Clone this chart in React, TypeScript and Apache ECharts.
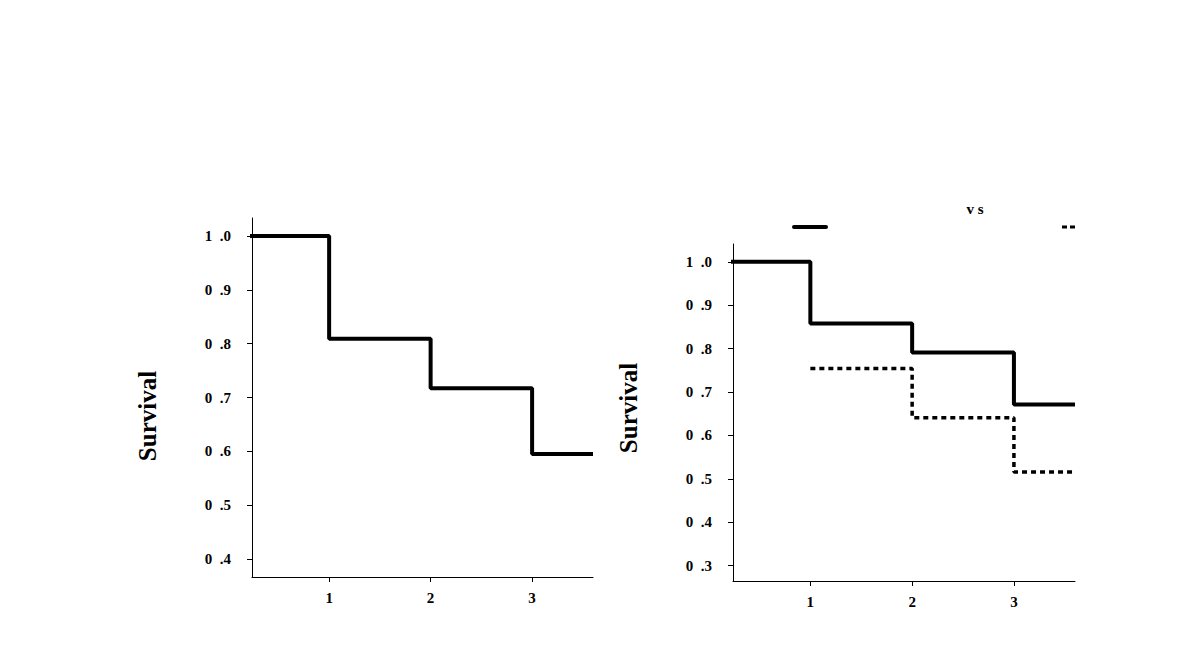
import React, { useEffect, useRef } from "react";
import * as echarts from "echarts";

const xTicks = [1, 2, 3];
const yTicksLeft = [0.4, 0.5, 0.6, 0.7, 0.8, 0.9, 1.0];
const yTicksRight = [0.3, 0.4, 0.5, 0.6, 0.7, 0.8, 0.9, 1.0];

const leftTimes = [0, 1, 2, 3, 3.6];
const leftSurvival = [1.0, 0.809, 0.717, 0.595, 0.595];

const rightSolidTimes = [0, 1, 2, 3, 3.6];
const rightSolidSurvival = [1.0, 0.858, 0.791, 0.671, 0.671];

const rightDashedTimes = [1, 2, 3, 3.6];
const rightDashedSurvival = [0.754, 0.641, 0.516, 0.516];

const yLabel = "Survival";
const legendMid = "v s";

const serif = "'Liberation Serif', 'Times New Roman', serif";

const pairs = (xs: number[], ys: number[]) => xs.map((x, i) => [x, ys[i]]);
const fmtY = (v: number) => v.toFixed(1).replace(".", "\u00a0\u00a0.");

export default function App() {
  const ref = useRef<HTMLDivElement>(null);
  useEffect(() => {
    document.body.style.margin = "0";
    const chart = echarts.init(ref.current!, undefined, { renderer: "svg" });
    const axisLine = { show: true, lineStyle: { color: "#000", width: 1 } };
    const labelStyle = { color: "#000", fontFamily: serif, fontWeight: "bold" as const, fontSize: 15 };
    const xAxisDef = (gridIndex: number) => ({
      type: "value",
      gridIndex,
      min: 0.24,
      max: 3.6,
      axisLine,
      splitLine: { show: false },
      axisTick: { show: true, customValues: xTicks, length: 5, lineStyle: { color: "#000" } },
      axisLabel: { ...labelStyle, customValues: xTicks, margin: 13, formatter: (v: number) => String(v) },
    });
    const yAxisDef = (gridIndex: number, min: number, max: number, ticks: number[]) => ({
      type: "value",
      gridIndex,
      min,
      max,
      axisLine,
      splitLine: { show: false },
      axisTick: { show: true, customValues: ticks, length: 5, lineStyle: { color: "#000" } },
      axisLabel: { ...labelStyle, customValues: ticks, margin: 21, formatter: fmtY },
    });
    chart.setOption({
      animation: false,
      backgroundColor: "#fff",
      grid: [
        { left: 252, top: 218, width: 341, height: 359 },
        { left: 733, top: 244, width: 342, height: 337 },
      ],
      xAxis: [xAxisDef(0), xAxisDef(1)],
      yAxis: [
        yAxisDef(0, 0.3665, 1.0335, yTicksLeft),
        yAxisDef(1, 0.2647, 1.041, yTicksRight),
      ],
      series: [
        {
          type: "line",
          xAxisIndex: 0,
          yAxisIndex: 0,
          step: "end",
          data: pairs(leftTimes, leftSurvival),
          showSymbol: false,
          lineStyle: { color: "#000", width: 4 },
        },
        {
          type: "line",
          xAxisIndex: 1,
          yAxisIndex: 1,
          step: "end",
          data: pairs(rightSolidTimes, rightSolidSurvival),
          showSymbol: false,
          lineStyle: { color: "#000", width: 4 },
        },
        {
          type: "line",
          xAxisIndex: 1,
          yAxisIndex: 1,
          step: "end",
          data: pairs(rightDashedTimes, rightDashedSurvival),
          showSymbol: false,
          lineStyle: { color: "#000", width: 3.5, type: [5, 4] },
        },
      ],
      graphic: [
        {
          type: "text",
          x: 147,
          y: 416,
          rotation: Math.PI / 2,
          style: { text: yLabel, font: `bold 25px ${serif}`, fill: "#000", align: "center", verticalAlign: "middle" },
        },
        {
          type: "text",
          x: 628,
          y: 408,
          rotation: Math.PI / 2,
          style: { text: yLabel, font: `bold 25px ${serif}`, fill: "#000", align: "center", verticalAlign: "middle" },
        },
        {
          type: "text",
          x: 975,
          y: 209,
          style: { text: legendMid, font: `bold 15px ${serif}`, fill: "#000", align: "center", verticalAlign: "middle" },
        },
        {
          type: "line",
          shape: { x1: 794, y1: 227, x2: 826, y2: 227 },
          style: { stroke: "#000", lineWidth: 4, lineCap: "round" },
        },
        {
          type: "line",
          shape: { x1: 1062, y1: 227, x2: 1075, y2: 227 },
          style: { stroke: "#000", lineWidth: 3, lineDash: [5, 3] },
        },
      ],
    });
    return () => chart.dispose();
  }, []);
  return <div ref={ref} style={{ width: 1190, height: 658 }} />;
}
